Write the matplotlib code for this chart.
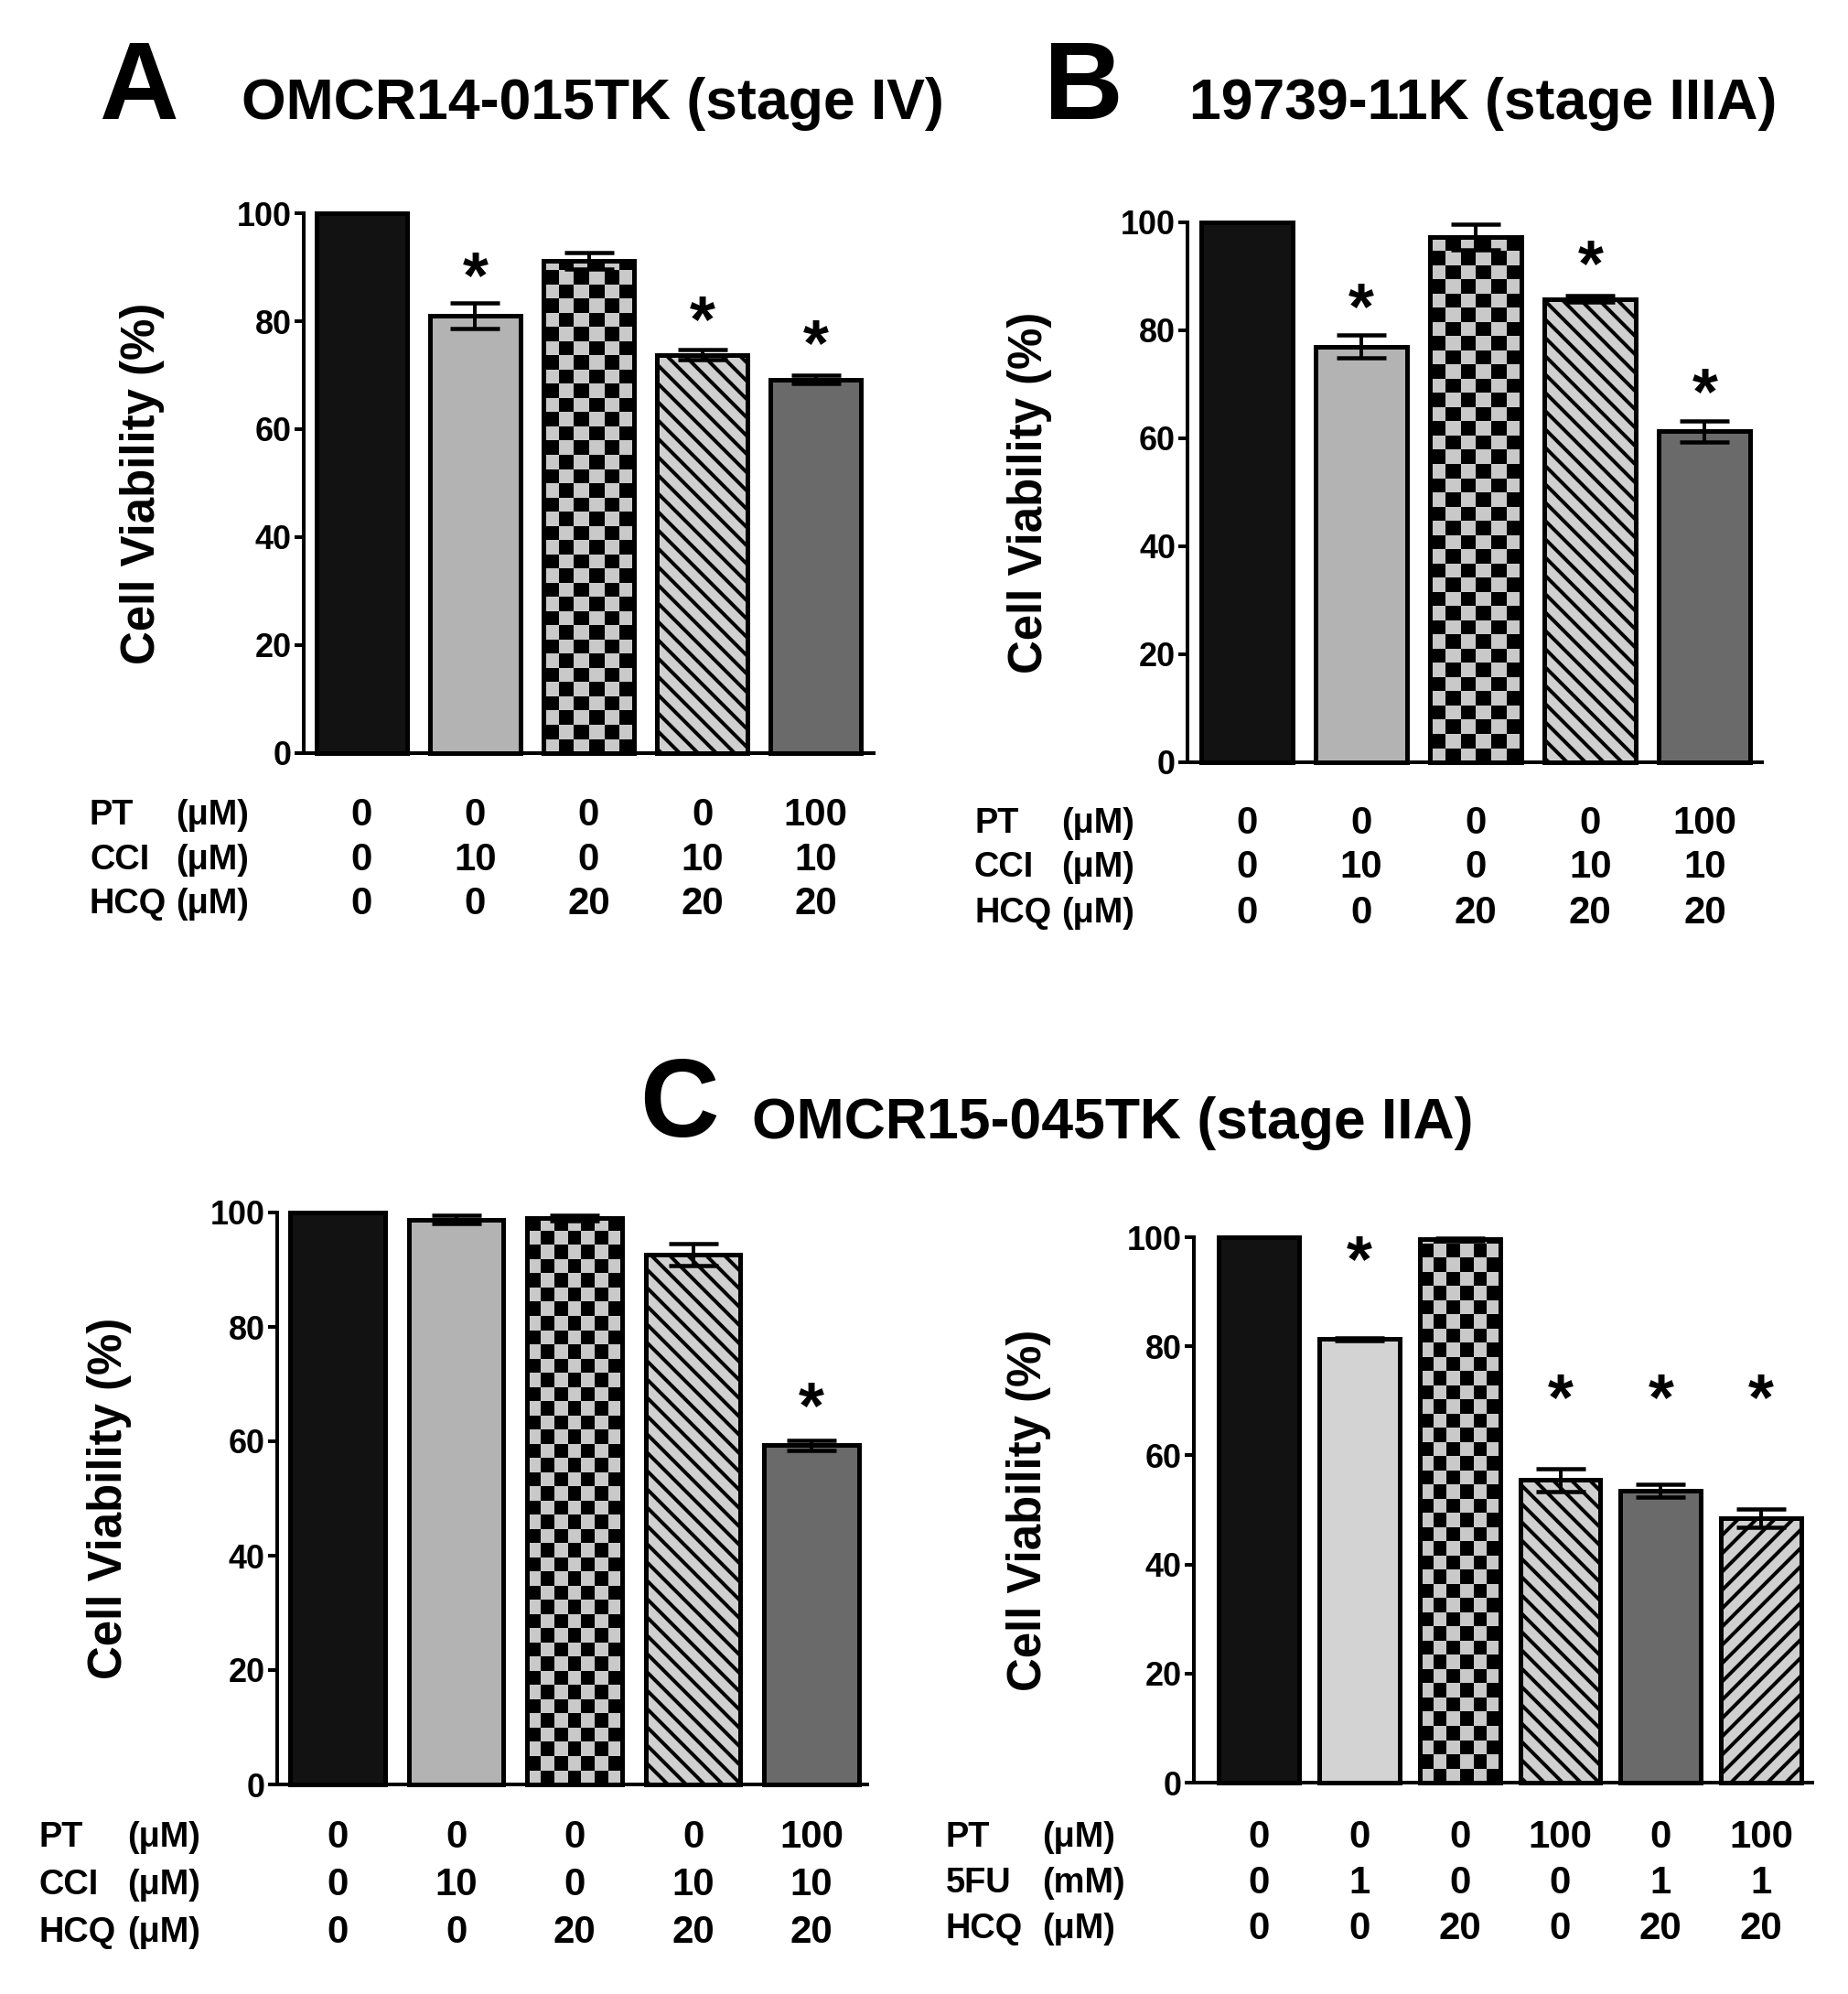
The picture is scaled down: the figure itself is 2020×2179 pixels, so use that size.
import matplotlib
matplotlib.use('Agg')
import matplotlib.pyplot as plt
import matplotlib.transforms as mtransforms
from matplotlib.colors import ListedColormap
import numpy as np

DPI = 120
W, H = 2021, 2179


def pt(px):
    # pixel size -> points at this dpi
    return px * 72.0 / DPI


plt.rcParams['font.family'] = ['Liberation Sans', 'DejaVu Sans']
plt.rcParams['font.weight'] = 'bold'
plt.rcParams['hatch.linewidth'] = pt(4)

# ---- data ----
a_vals = [100, 81, 91.2, 73.8, 69.2]
a_errs = [0, 2.4, 1.5, 0.9, 0.8]
a_star = [None, 87.6, None, 79.5, 75.0]
a_pt = ['0', '0', '0', '0', '100']
a_cci = ['0', '10', '0', '10', '10']
a_hcq = ['0', '0', '20', '20', '20']

b_vals = [100, 77, 97.3, 85.8, 61.3]
b_errs = [0, 2.1, 2.3, 0.6, 2.0]
b_star = [None, 83.6, None, 91.6, 67.8]
b_pt = ['0', '0', '0', '0', '100']
b_cci = ['0', '10', '0', '10', '10']
b_hcq = ['0', '0', '20', '20', '20']

c1_vals = [100, 98.8, 99.1, 92.6, 59.3]
c1_errs = [0, 0.7, 0.5, 1.9, 0.9]
c1_star = [None, None, None, None, 65.4]
c1_pt = ['0', '0', '0', '0', '100']
c1_cci = ['0', '10', '0', '10', '10']
c1_hcq = ['0', '0', '20', '20', '20']

c2_vals = [100, 81.3, 99.6, 55.5, 53.5, 48.5]
c2_errs = [0, 0.3, 0.3, 2.1, 1.2, 1.7]
c2_star = [None, 95.2, None, 69.8, 69.8, 69.8]
c2_pt = ['0', '0', '0', '100', '0', '100']
c2_5fu = ['0', '1', '0', '0', '1', '1']
c2_hcq = ['0', '0', '20', '0', '20', '20']

STYLE = {
    'black': dict(fc='#121212'),
    'gray': dict(fc='#b3b3b3'),
    'light': dict(fc='#d3d3d3'),
    'checker': dict(fc='#c9c9c9'),
    'back': dict(fc='#d0d0d0', hatch='\\\\'),
    'fwd': dict(fc='#d0d0d0', hatch='//'),
    'dark': dict(fc='#6a6a6a'),
}

fig = plt.figure(figsize=(W / DPI, H / DPI), dpi=DPI)
fig.patch.set_facecolor('white')


def panel(rect, xlim, vals, errs, stars, styles, rows, row_y, lab_x, unit_x, ylab_x):
    left, top, right, bottom = rect
    ax = fig.add_axes([left / W, 1 - bottom / H, (right - left) / W, (bottom - top) / H])
    x = np.arange(len(vals))
    vals = np.array(vals, float)
    errs = np.array(errs, float)
    ppx = (right - left) / (xlim[1] - xlim[0])
    ppy = (bottom - top) / 100.0

    bars = ax.bar(x, vals, width=0.8, color=[STYLE[s]['fc'] for s in styles],
                  edgecolor='black', linewidth=pt(5), zorder=2, clip_on=False)
    for b, s in zip(bars, styles):
        if 'hatch' in STYLE[s]:
            b.set_hatch(STYLE[s]['hatch'])
        if s == 'checker':
            x0, w, h = b.get_x(), b.get_width(), b.get_height()
            cell = 15.5
            nx = max(1, int(round(w * ppx / cell)))
            ny = int(np.ceil(h * ppy / cell))
            grid = np.add.outer(np.arange(ny), np.arange(nx)) % 2
            im = ax.imshow(grid, cmap=ListedColormap(['#c9c9c9', '#000000']),
                           extent=(x0, x0 + w, 0, ny * cell / ppy), origin='lower',
                           interpolation='nearest', aspect='auto', zorder=2.5)
            im.set_clip_path(b)
    ax.bar(x, vals, width=0.8, fill=False, edgecolor='black', linewidth=pt(5),
           zorder=3, clip_on=False)

    m = errs > 0
    ax.errorbar(x[m], vals[m], yerr=errs[m], fmt='none', ecolor='black',
                elinewidth=pt(4), capsize=pt(27), capthick=pt(4.5), zorder=4, clip_on=False)
    for i, sy in enumerate(stars):
        if sy is not None:
            ax.text(i, sy, '*', ha='center', va='center', fontsize=pt(72), zorder=5)

    ax.set_xlim(*xlim)
    ax.set_ylim(0, 100)
    ax.set_xticks([])
    ax.set_yticks(range(0, 101, 20))
    ax.tick_params(axis='y', length=pt(10), width=pt(4), labelsize=pt(36), pad=pt(3))
    for sp in ['top', 'right']:
        ax.spines[sp].set_visible(False)
    for sp in ['left', 'bottom']:
        ax.spines[sp].set_linewidth(pt(4))
    ax.patch.set_alpha(0)

    fig.text(ylab_x / W, 1 - (top + bottom) / 2 / H, 'Cell Viability (%)', rotation=90,
             ha='center', va='center', fontsize=pt(51))

    tr = mtransforms.blended_transform_factory(ax.transData, fig.transFigure)
    for (name, unit, labels), ry in zip(rows, row_y):
        fy = 1 - ry / H
        fig.text(lab_x / W, fy, name, ha='left', va='center', fontsize=pt(38))
        fig.text(unit_x / W, fy, unit, ha='left', va='center', fontsize=pt(38))
        for i, lab in enumerate(labels):
            ax.text(i, fy, lab, transform=tr, ha='center', va='center', fontsize=pt(42),
                    clip_on=False)
    return ax


five = ['black', 'gray', 'checker', 'back', 'dark']

panel((332, 233, 955, 823), (-0.51, 4.51), a_vals, a_errs, a_star, five,
      [('PT', '(μM)', a_pt), ('CCI', '(μM)', a_cci), ('HCQ', '(μM)', a_hcq)],
      [891, 940, 988], 98, 192, 156)

panel((1298, 243, 1926, 833), (-0.52, 4.5), b_vals, b_errs, b_star, five,
      [('PT', '(μM)', b_pt), ('CCI', '(μM)', b_cci), ('HCQ', '(μM)', b_hcq)],
      [900, 948, 998], 1065, 1160, 1126)

panel((303, 1325, 948, 1950), (-0.51, 4.47), c1_vals, c1_errs, c1_star, five,
      [('PT', '(μM)', c1_pt), ('CCI', '(μM)', c1_cci), ('HCQ', '(μM)', c1_hcq)],
      [2008, 2060, 2112], 43, 139, 120)

panel((1305, 1352, 1981, 1948), (-0.65, 5.51), c2_vals, c2_errs, c2_star,
      ['black', 'light', 'checker', 'back', 'dark', 'fwd'],
      [('PT', '(μM)', c2_pt), ('5FU', '(mM)', c2_5fu), ('HCQ', '(μM)', c2_hcq)],
      [2008, 2058, 2108], 1034, 1139, 1125)

# panel letters and titles
fig.text(108 / W, 1 - 130 / H, 'A', fontsize=pt(120), va='baseline')
fig.text(264 / W, 1 - 130 / H, 'OMCR14-015TK (stage IV)', fontsize=pt(62.5), va='baseline')
fig.text(1141 / W, 1 - 130 / H, 'B', fontsize=pt(120), va='baseline')
fig.text(1300 / W, 1 - 130 / H, '19739-11K (stage IIIA)', fontsize=pt(62.5), va='baseline')
fig.text(699 / W, 1 - 1242 / H, 'C', fontsize=pt(120), va='baseline')
fig.text(822 / W, 1 - 1244 / H, 'OMCR15-045TK (stage IIA)', fontsize=pt(62.5), va='baseline')

fig.savefig('out.png', dpi=DPI)
